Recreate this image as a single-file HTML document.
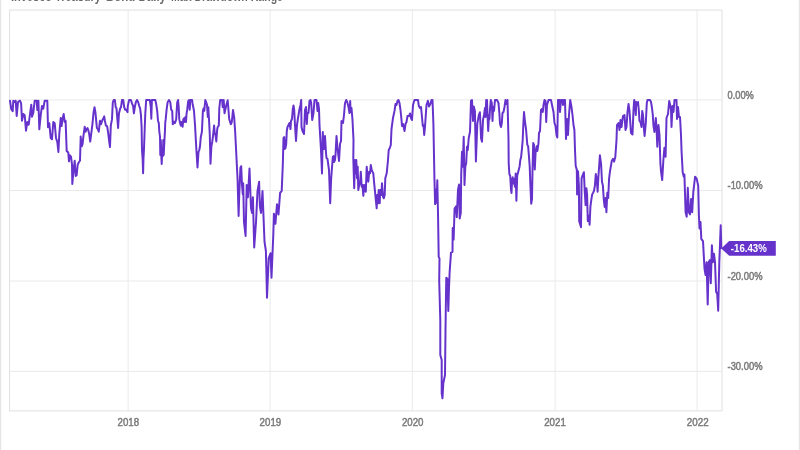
<!DOCTYPE html>
<html><head><meta charset="utf-8"><style>
html,body{margin:0;padding:0;background:#fff;}
body{width:800px;height:450px;overflow:hidden;position:relative;}
svg{position:absolute;left:0;top:0;display:block;}
</style></head><body>
<svg width="800" height="450" viewBox="0 0 800 450">
<defs><filter id="b" x="-1%" y="-1%" width="102%" height="102%"><feGaussianBlur stdDeviation="0.35"/></filter></defs>
<g filter="url(#b)">
<rect x="0" y="0" width="800" height="450" fill="#ffffff"/>
<text y="0.7" font-family="Liberation Sans, Arial, sans-serif" font-weight="bold" font-size="15" fill="#6a6a6a" lengthAdjust="spacingAndGlyphs"><tspan x="11" textLength="90" lengthAdjust="spacingAndGlyphs">Invesco Treasury</tspan><tspan x="106" textLength="60" lengthAdjust="spacingAndGlyphs">Bond Daily</tspan><tspan x="171" textLength="112" lengthAdjust="spacingAndGlyphs">Max Drawdown Range</tspan></text>
<g stroke="#eaeaea" stroke-width="1" fill="none">
<line x1="10" y1="99.9" x2="722" y2="99.9"/>
<line x1="10" y1="190.5" x2="722" y2="190.5"/>
<line x1="10" y1="281" x2="722" y2="281"/>
<line x1="10" y1="371.4" x2="722" y2="371.4"/>
<line x1="128.13" y1="10" x2="128.13" y2="411"/>
<line x1="270.13" y1="10" x2="270.13" y2="411"/>
<line x1="412.4" y1="10" x2="412.4" y2="411"/>
<line x1="555.13" y1="10" x2="555.13" y2="411"/>
<line x1="697.07" y1="10" x2="697.07" y2="411"/>
</g>
<rect x="9.6" y="10.05" width="712.4" height="400.85" fill="none" stroke="#e0e0e0" stroke-width="1"/>
<polyline points="10,100.7 11.3,109.3 12.7,111.3 13.3,100.7 14.7,102 15.7,100.7 16.7,116 18,102 20,100.7 21.1,103.3 22,120.7 23.3,114 24.7,115.3 26,130.7 27.3,122 28.7,124.7 30,114 31.3,104.7 32,116.7 33.3,112.7 34.7,100.7 36.7,100.7 37.3,110 38.4,100.7 39.3,129.3 40.7,115.3 42,106 43.3,108.7 44.7,100.7 47.3,100.7 48,127.3 49.3,123.3 50.7,138 52,139.3 53.3,122 54.7,123.3 56,138 57.3,142 58.4,152 59.3,134 60.7,118 61.6,126 62.7,118 63.7,114 64.7,122 65.6,120.7 66.7,151.3 67.3,151.3 68.3,152.7 69,161.3 69.7,155.3 71,156.7 72,164.7 72.3,184 73.7,168.7 74.7,160.7 75.7,176 76.6,175.3 77.7,164.7 79,162 80,160.7 80.7,136.6 81.7,146.3 82.6,143.9 83.5,135.3 84.7,126.8 85.6,131.7 86.6,129.2 87.5,128 88.4,130.5 89.2,134.1 90.2,141.5 91.2,134.1 92.4,124.3 93.6,112.1 94.5,107.2 95.4,112.1 96.3,121.9 96.9,128 97.8,129.2 98.8,131.7 99.4,125.6 100,120.7 101,124.3 101.8,121.9 102.7,119.4 103.4,118.2 104.2,116.4 104.9,120.7 105.9,125.6 107.1,126.2 108,131.7 109.2,141.5 110,147 110.8,125.6 112,119.4 112.8,102.3 113.7,100 114.9,100 115.7,107.2 116.5,108.4 117.4,119.4 118.1,128 119,113.3 120.2,108.4 121,107.2 122,100 123.2,100 124.2,107.2 125.1,109.7 126.3,109.7 127.5,112.1 127.8,106 129.1,100 130.9,100 132.1,103.6 133.1,106 133.9,113.3 134.8,107.2 135.8,102.3 137,100 138.2,102.3 139.2,106 140.1,108.4 140.9,114.6 141.6,126.8 142,150 142.7,160 143.1,173.3 143.5,158 144,149 144.6,131.7 145.3,113.3 146.2,100 149.8,100 150.8,107.2 151.3,118.8 151.9,100 155.3,100 156.3,104.8 157.2,110.9 158,120.7 158.8,123.1 159.3,131.7 160,136.6 160.3,155 160.8,140 161.3,156 161.7,164 162.3,150 162.8,156 163.3,140 163.7,155 164.1,147 164.9,131.7 165.3,122 165.7,119.4 166.6,109.7 167.6,102.3 169,100 170.3,102.3 171.2,109.7 172.2,110.9 172.8,124.3 173.9,121.9 174.9,123.1 176.2,119.4 177.2,102.3 178.1,100 178.7,107.2 179.3,119.4 180.1,123.1 180.9,125.6 181.7,121.9 182.6,126.8 183.3,119.4 184.2,118.2 184.8,121.9 185.4,117 186,121.9 186.6,113.3 187.2,109.7 188.2,101 189,100 189.7,109.7 190.3,100 192.1,100 192.7,104.8 193.3,107.2 194,111 195,125 196.4,150 197.5,167.5 198.5,152 199.3,150 200,146.3 200.7,137.8 201.9,131.7 202.9,110.9 203.7,108.4 204.3,110.9 205.3,100 206.2,102.3 207,104.8 207.8,117 208.3,107.2 209,119.4 209.8,135.3 210.5,163.8 211.4,146.3 212.3,141.5 213.1,135.3 214.1,125.6 214.7,132.9 215.6,135.3 216.3,141.5 217.2,129.2 217.8,126.8 218.8,125.6 219.3,108.4 220.2,100 222.1,100 222.7,107.2 223.7,100 224.5,113.3 226.2,105.5 227.7,100.3 229.2,119 230.8,124.3 231.8,122 233,110 234.2,117.5 235.2,132.5 236.6,160 237.6,180.2 238.6,216 239.2,195.8 240.4,167.8 241.2,166.2 242,184.9 242.8,194.2 243.2,183.3 244,222.2 245.6,236 246.7,184.9 247.9,197.3 249.5,168.6 250.1,184.9 251,208.2 252.1,212.9 252.9,197.3 254.2,247.5 256,222.2 257.5,191.1 259.1,181.8 259.9,206.7 261,212.9 262.5,191.1 264.5,241.7 265.9,251 267,297.7 268.7,258 270.5,253.3 271.5,277.8 273.3,234.7 273.9,213.7 275.4,223.8 277,204.3 278.5,214.4 280.1,192.7 281.7,191.1 282.8,165 283.5,138 284.2,137 284.8,149 285.5,148 286.2,144 286.8,131 287.5,127 288.5,125 289.5,123 290.5,129 291,121 292,119 292.8,109 293.5,105.5 294.2,110 295,125 296,141 297,125 298,118 299.5,109 300.5,105 301.2,100 301.5,127 302.5,131 303.5,133 304,134 305,110 306,107 306.8,124 307.5,113 308.5,113 309.5,101 310.5,100 311.2,103 312.2,120 313.5,113 314.5,100 316.5,100 317.5,111 318.2,103 319,109 319.5,125 321,150 322,173.5 322.8,132 323.5,148 324,149 325,136 326,153 326.5,158 327.5,159 329,170 330.2,203.3 331.1,179.4 332.8,157 333.5,156 334,162 335,160 335.5,155 336.5,136 337.5,148 339,161 340,144 341,141 341.5,121 343,123 344,115 345,103 346.2,100 347.2,102 348.5,107 349.5,113 350.2,101 350.6,112 351.5,108 352.5,120 353.5,140 353.3,158.3 354.2,188.3 355,160 355.8,173.3 356.3,160 357,178.3 357.7,166.7 358.3,190 359.2,185 360,183.3 360.8,171.7 361.7,186.7 362.5,185 363.3,195.8 364.2,185 365,190 365.8,191.7 366.7,166.7 367.5,176.7 368.3,181.7 369.2,171.7 370,173.3 370.8,165 371.7,170 372.5,171.7 373.3,173.3 374.2,183.3 375,191.7 375.8,200 376.7,208.3 377.2,195 378,203.3 378.7,190 379.7,203.3 380.3,190 381.3,195 382,183.3 383,196.7 383.8,198.3 384.7,195 385.3,178.3 386.7,173.3 388,160 388.7,150 389.7,148.3 390.8,145 391.5,129 393,118 394.5,111 395.5,104 396.5,105 397.5,101 398.5,100 399.5,103 400.5,110 401.5,120 402,126 403,124 404.5,131 405.5,124 406.5,122 407.5,116 409,116 410,113.5 411,118 412,120 413,105 414.5,100 418,100 418.8,106 420,108 421,107 421.8,115 422.8,126 423.5,125 424.2,135 425,127 425.8,115 426.5,105 427.9,100.8 429,106.6 430.5,103.7 431.5,100 432.5,100 433.4,123.9 434.4,176.7 435.1,204.1 435.8,189.7 436.6,202.7 437.3,180.3 438,212.8 438.7,256.9 439.5,258.4 439.2,281 440.3,320.3 440.3,355 441.7,360 441.7,393.3 442.5,398.3 443.3,383.3 445,375 445.5,330 446.1,288.3 446.3,277.7 447.4,279 448.3,311 449,288.3 449.6,272.8 451,252.6 452.5,251.8 452.7,228 453.6,239.6 454.6,208.5 456.1,206.3 456.8,217.1 458,189.7 459,184.6 459.7,218.6 460.8,212.8 461.2,175 462,151.7 462.8,166.7 463.7,136.7 464.5,185 465.3,166.7 466.2,163.3 467,146.7 467.8,150 468.7,138.3 470,131.7 471,100.8 472,100 473,121 473.8,106.6 474.9,110.9 475.9,161.5 477.3,123.9 478.8,115.2 479.9,112.3 481.1,138.4 482,141.7 483,120 484,115 485,108 485.5,117 486.2,100 487,100 487.5,115 488.2,131 489,115 489.5,119 490,109 490.8,100 491.8,103 492.5,121 493.2,107 494,111 495,100 497,100 498.5,103 499.5,115 500,124 501,127 501.8,123 502.5,113 503.5,112 504.5,107 505.5,100 506.5,104 507.5,100 508.5,140 508.7,163.3 509.4,174.2 510.2,175.8 511,189.8 511.5,192.9 512.1,180.4 512.7,177.3 513.3,183.5 514.1,178.9 514.9,186.7 515.7,173.4 516.4,200.7 517.2,175.8 518,172.7 518.8,169.5 519.6,166.4 520.3,160.2 521.1,157.1 521.9,149.3 522.7,140 523.3,125 524,112 525,122 526,129 527.3,144.7 528.1,146.2 528.9,155.6 529.7,166.4 530.4,185.1 531.2,203.8 532,199.1 532.5,171.1 533.2,143.1 534,144.7 534.8,169.5 535.6,152.4 536.7,146.2 537.4,150.9 538.5,143.1 539,133 540,131 541,110 542,109 542.8,112 543.5,105 544.5,100 545.5,101 546.2,122 547,105 548.5,100 551,100 552,105 553.5,112 554.5,123 555.5,126 556.5,135 557.3,137.5 558,100 559.5,100 560,112 561,100 562.5,100 563,105 564,100 565,100 566,139 567,119 568,135 569,115 570.2,100 571.5,107 572.5,115 573.5,125 574.4,130 575,150 575.7,166 576.8,169.6 577.1,194.4 578,171.3 578.9,185.6 579.2,221.1 580.3,224.7 581,227.3 581.6,178.4 582.8,174.9 583.9,172.2 584.8,192.7 585.6,205.1 586.4,188.2 587.1,194.4 587.8,221.1 588.7,215.8 589.6,224.7 590.4,206.9 591.3,199.8 592.2,194.4 593.1,192.7 594,190.9 594.9,185.6 595.8,174 596.7,178.4 597.6,191.8 598.4,176.7 599.3,164.2 599.9,155.3 601.1,164.2 602,182 602.9,185.6 603.8,199.8 604.7,206.9 605.6,198 606.4,212.2 607.3,192.7 608.2,198 609.1,178.4 610,171.3 611.8,160.7 613,158.9 614.1,161.6 615.3,157.1 616.5,140 617,125 618.5,123 619.5,130 620.5,120 621.5,127 623,116 624.5,115 625.5,130 626.5,127 627.5,112 628.5,104 629.5,111 631,133 632.5,134.5 633.5,110 634.2,100 635,103 635.8,115 636.2,102 637,105 638,102 638.8,110 639.5,121 640.5,122 641.5,127 642.2,111 643,115 644,130 644.6,136 645.8,123 646.8,103 647.5,100 650,100 651,102 652,108 652.8,115 653.5,126 654.5,132 655.8,118 656.5,127 657.3,146.7 658.5,125 659.5,135 660.4,163.3 661.1,172.2 662.2,180 663.3,161.1 664.4,147.8 665.6,156.7 666.5,118 668,114 669.2,101 670.2,105 671,110 671.5,127 672.5,106 673.5,112 674.5,100 676.5,100 677,119 678,107 679,117 680,117 681,135 681.5,150 682.7,172.2 683.8,176.7 684.4,174.4 685.6,212.2 686.7,216.7 687.8,187.8 688.9,212.2 690,214.4 691.1,198.9 692.2,212.2 693.3,192.2 695.1,176.7 696.7,178.9 698.2,185.6 698.9,215 699.5,228.4 700.5,222 701.3,239 703,241.1 704.5,268.5 705.5,274.9 706.6,262.2 707.7,304.4 708.7,262.2 709.8,260.1 710.8,283.3 711.9,245.3 712.9,262.2 714,253.8 715,262.2 716.1,291.7 717.2,293.8 718.2,310.7 719.3,262.2 720.7,225.3 721.3,248" fill="none" stroke="#6633cc" stroke-width="2" stroke-linejoin="round" stroke-linecap="round"/>
<g font-family="Liberation Sans, Arial, sans-serif" font-size="11.5" fill="#7a7a7a" stroke="#7a7a7a" stroke-width="0.5">
<text x="727.5" y="99" textLength="26.3" lengthAdjust="spacingAndGlyphs">0.00%</text>
<text x="727.5" y="189.3" textLength="35" lengthAdjust="spacingAndGlyphs">-10.00%</text>
<text x="727.5" y="279.5" textLength="35" lengthAdjust="spacingAndGlyphs">-20.00%</text>
<text x="727.5" y="369.6" textLength="35" lengthAdjust="spacingAndGlyphs">-30.00%</text>
<g text-anchor="middle">
<text x="128.3" y="426.2" textLength="21.6" lengthAdjust="spacingAndGlyphs">2018</text>
<text x="270.4" y="426.2" textLength="21.6" lengthAdjust="spacingAndGlyphs">2019</text>
<text x="412.7" y="426.2" textLength="21.6" lengthAdjust="spacingAndGlyphs">2020</text>
<text x="555" y="426.2" textLength="21.6" lengthAdjust="spacingAndGlyphs">2021</text>
<text x="697.7" y="426.2" textLength="21.8" lengthAdjust="spacingAndGlyphs">2022</text>
</g>
</g>
<path d="M721.2,248.4 L729.2,241 L775.8,241 L775.8,255.8 L729.2,255.8 Z" fill="#6633cc"/>
<text x="730.8" y="252.2" font-family="Liberation Sans, Arial, sans-serif" font-weight="bold" font-size="11" fill="#ffffff" textLength="36" lengthAdjust="spacingAndGlyphs">-16.43%</text>
</g>
<rect x="0" y="0" width="1" height="450" fill="#e5e5e5"/><rect x="1" y="0" width="1" height="450" fill="#f9f9f9"/>
<rect x="799" y="0" width="1" height="450" fill="#e6e6e6"/><rect x="798" y="0" width="1" height="450" fill="#fafafa"/>
</svg>
</body></html>
